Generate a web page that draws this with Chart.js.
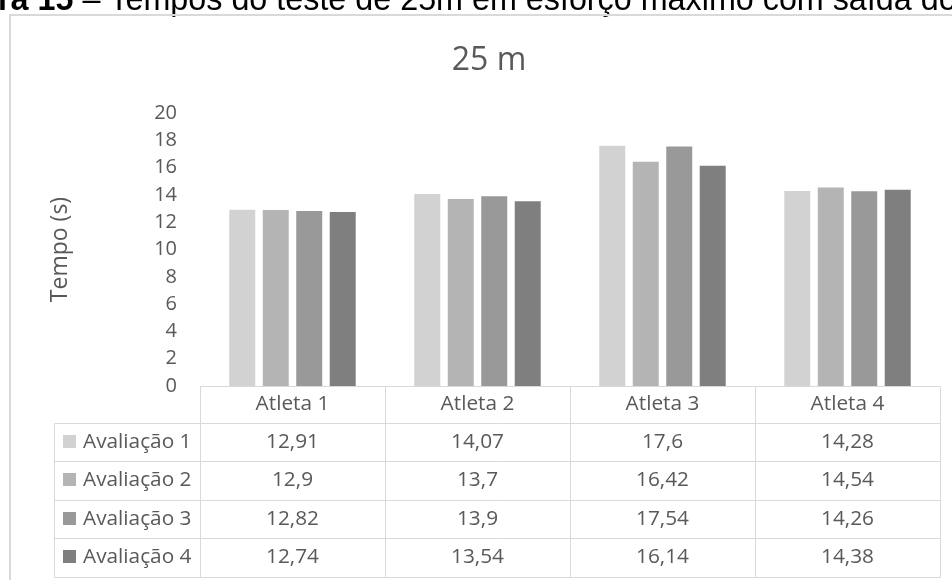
<!DOCTYPE html>
<html lang="pt">
<head>
    <meta charset="UTF-8">
    <title>25 m</title>
    <script src="https://cdn.jsdelivr.net/npm/chart.js"></script>
    <style>
        body { margin: 0; background: #ffffff; }
        #tempos { display: block; }
    </style>
</head>
<body>
    <canvas id="tempos" width="952" height="580"></canvas>

    <script>
        // Dados do teste de 25 m (tempo em segundos)
        const atletas = ["Atleta 1", "Atleta 2", "Atleta 3", "Atleta 4"];
        const avaliacoes = ["Avaliação 1", "Avaliação 2", "Avaliação 3", "Avaliação 4"];
        const avaliacao1 = [12.91, 14.07, 17.6, 14.28];
        const avaliacao2 = [12.9, 13.7, 16.42, 14.54];
        const avaliacao3 = [12.82, 13.9, 17.54, 14.26];
        const avaliacao4 = [12.74, 13.54, 16.14, 14.38];
        const yMin = 0, yMax = 20, yStep = 2;

        const cores = ["#d2d2d2", "#b4b4b4", "#999999", "#7f7f7f"];
        const series = [avaliacao1, avaliacao2, avaliacao3, avaliacao4];
        const textColor = "#595959";
        const lineColor = "#d9d9d9";
        const fontFamily = "'Open Sans', sans-serif";

        // numeros com virgula decimal
        function fmt(v) {
            return String(v).replace(".", ",");
        }

        // legenda da figura (cortada no topo), moldura, titulo e tabela de dados
        const extras = {
            id: "extras",
            beforeDraw(chart) {
                const ctx = chart.ctx;
                ctx.save();
                ctx.fillStyle = "#000000";
                ctx.textBaseline = "alphabetic";
                ctx.textAlign = "left";
                ctx.font = "bold 32.3px 'Liberation Sans', Arial, sans-serif";
                const bold = "ra 15";
                ctx.fillText(bold, -2, 10);
                const w = ctx.measureText(bold).width;
                ctx.font = "32.3px 'Liberation Sans', Arial, sans-serif";
                ctx.fillText(" – Tempos do teste de 25m em esforço máximo com saída do", -2 + w, 10);

                // moldura do grafico
                ctx.strokeStyle = lineColor;
                ctx.lineWidth = 2;
                ctx.beginPath();
                ctx.moveTo(10, 580);
                ctx.lineTo(10, 15);
                ctx.lineTo(952, 15);
                ctx.stroke();

                // titulo, centrado na area do grafico inteiro
                ctx.fillStyle = textColor;
                ctx.textAlign = "center";
                ctx.font = "32px " + fontFamily;
                ctx.fillText("25 m", 489, 70);
                ctx.restore();
            },
            afterDraw(chart) {
                const ctx = chart.ctx;
                const area = chart.chartArea;
                const xs = chart.scales.x;
                const colW = (area.right - area.left) / atletas.length;
                const top = Math.round(area.bottom) + 0.5;
                const headH = 36;
                const rowH = 38.5;
                const legLeft = 54.5;
                const bottom = top + headH + rowH * avaliacoes.length;

                ctx.save();
                ctx.strokeStyle = lineColor;
                ctx.lineWidth = 1;
                ctx.beginPath();
                // linhas horizontais
                ctx.moveTo(area.left, top);
                ctx.lineTo(area.right, top);
                for (let r = 0; r <= avaliacoes.length; r++) {
                    const y = Math.round(top + headH + r * rowH) + 0.5;
                    ctx.moveTo(legLeft, y);
                    ctx.lineTo(area.right, y);
                }
                // linhas verticais
                ctx.moveTo(legLeft, Math.round(top + headH) + 0.5);
                ctx.lineTo(legLeft, Math.round(bottom) + 0.5);
                for (let c = 0; c <= atletas.length; c++) {
                    const x = Math.round(area.left + c * colW) + 0.5;
                    ctx.moveTo(x, top);
                    ctx.lineTo(x, Math.round(bottom) + 0.5);
                }
                ctx.stroke();

                ctx.font = "20.8px " + fontFamily;
                ctx.fillStyle = textColor;
                ctx.textBaseline = "middle";
                ctx.textAlign = "center";
                atletas.forEach((a, i) => {
                    ctx.fillText(a, xs.getPixelForValue(i), top + headH / 2);
                });

                avaliacoes.forEach((nome, r) => {
                    const yc = top + headH + r * rowH + rowH / 2;
                    ctx.fillStyle = cores[r];
                    ctx.fillRect(63, Math.round(yc - 7), 13, 13);
                    ctx.fillStyle = textColor;
                    ctx.textAlign = "left";
                    ctx.fillText(nome, 83, yc);
                    ctx.textAlign = "center";
                    series[r].forEach((v, i) => {
                        ctx.fillText(fmt(v), xs.getPixelForValue(i), yc);
                    });
                });
                ctx.restore();
            }
        };

        new Chart(document.getElementById("tempos").getContext("2d"), {
            type: "bar",
            data: {
                labels: atletas,
                datasets: avaliacoes.map((nome, i) => ({
                    label: nome,
                    data: series[i],
                    backgroundColor: cores[i],
                    borderWidth: 0,
                    categoryPercentage: 0.724,
                    barPercentage: 0.776
                }))
            },
            options: {
                responsive: false,
                animation: false,
                layout: { padding: { top: 113, left: 10, right: 12, bottom: 194 } },
                plugins: {
                    legend: { display: false },
                    tooltip: { enabled: false },
                    title: { display: false }
                },
                scales: {
                    x: {
                        display: false,
                        offset: true
                    },
                    y: {
                        min: yMin,
                        max: yMax,
                        afterFit(scale) { scale.width = 190; },
                        ticks: {
                            stepSize: yStep,
                            color: textColor,
                            padding: 23,
                            font: { family: fontFamily, size: 20 }
                        },
                        grid: { display: false, drawTicks: false },
                        border: { display: false },
                        title: {
                            display: true,
                            text: "Tempo (s)",
                            color: textColor,
                            font: { family: fontFamily, size: 23, lineHeight: 1.2 },
                            padding: { top: 37 }
                        }
                    }
                }
            },
            plugins: [extras]
        });
    </script>
</body>
</html>
